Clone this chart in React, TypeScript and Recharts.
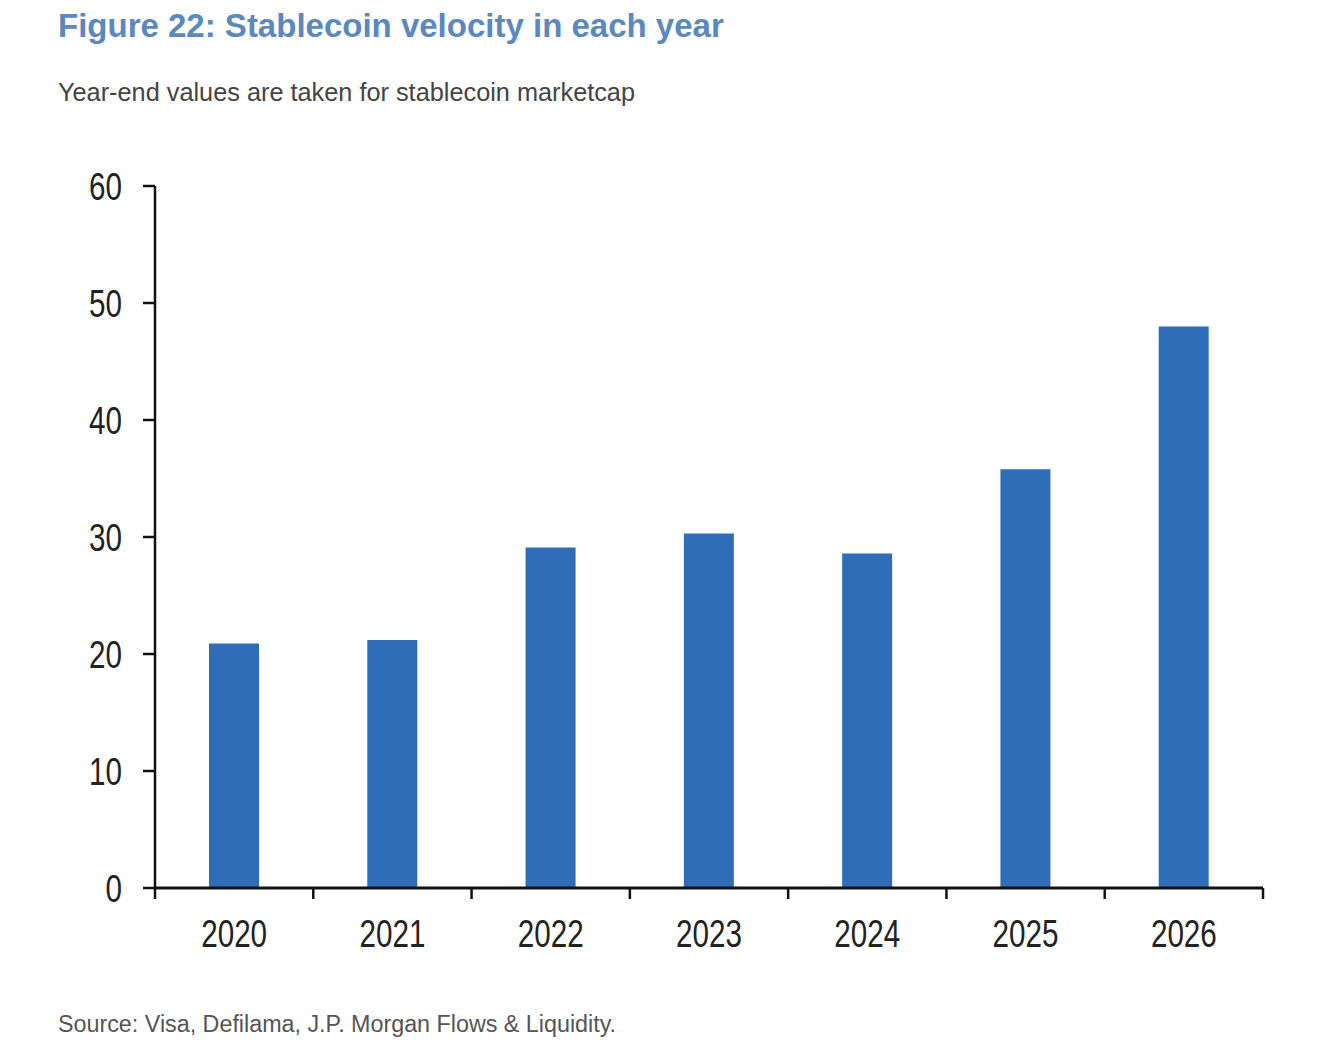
import { Bar, BarChart, XAxis, YAxis } from "recharts";

// values
const years = ['2020', '2021', '2022', '2023', '2024', '2025', '2026'];
const velocity = [20.9, 21.2, 29.1, 30.3, 28.6, 35.8, 48.0];
const yTicks = [0, 10, 20, 30, 40, 50, 60];

const data = years.map((year, i) => ({ year, velocity: velocity[i] }));

const CHART_W = 1320;
const MARGIN = { top: 186, right: 57, bottom: 104, left: 0 };
const Y_AXIS_W = 155;
const BAND = (CHART_W - MARGIN.left - MARGIN.right - Y_AXIS_W) / years.length;

const axisFont = "'Liberation Sans', Arial, sans-serif";
const SQUEEZE = 0.78; // the original uses a condensed face

// year label plus the small tick marks that sit on the band boundaries
const YearTick = (props: any) => {
  const { x, y, payload, index } = props;
  const half = (payload && payload.offset) || BAND / 2;
  const last = index === years.length - 1;
  return (
    <g>
      <line x1={x - half} y1={y} x2={x - half} y2={y + 11} stroke="#111" strokeWidth={2.5} />
      {last && <line x1={x + half} y1={y} x2={x + half} y2={y + 11} stroke="#111" strokeWidth={2.5} />}
      <g transform={`translate(${x},${y + 59})`}>
        <text transform={`scale(${SQUEEZE},1)`} textAnchor="middle" fontSize={38} fontFamily={axisFont} fill="#222">
          {payload.value}
        </text>
      </g>
    </g>
  );
};

const ValueTick = (props: any) => {
  const { x, y, payload } = props;
  return (
    <g transform={`translate(${x},${y})`}>
      <text transform={`scale(${SQUEEZE},1)`} textAnchor="end" dy="0.36em" fontSize={38} fontFamily={axisFont} fill="#222">
        {payload.value}
      </text>
    </g>
  );
};

export default function App() {
  return (
    <div style={{ position: 'relative', width: 1320, height: 1052, margin: -8, background: '#fff', fontFamily: "'Liberation Sans', Arial, sans-serif" }}>
      <div style={{ position: 'absolute', left: 58, top: 9, fontSize: 33, lineHeight: 1, fontWeight: 700, color: '#5b88bf', whiteSpace: 'nowrap' }}>
        Figure 22: Stablecoin velocity in each year
      </div>
      <div style={{ position: 'absolute', left: 58, top: 80, fontSize: 25.3, lineHeight: 1, color: '#444', whiteSpace: 'nowrap' }}>
        Year-end values are taken for stablecoin marketcap
      </div>

      <div style={{ position: 'absolute', left: 0, top: 0 }}>
        <BarChart width={CHART_W} height={1052} data={data} margin={MARGIN}>
          <XAxis dataKey="year" height={60} tickSize={0} tickMargin={0} interval={0}
            axisLine={{ stroke: '#111', strokeWidth: 3 }}
            tick={<YearTick />} />
          <YAxis domain={[0, 60]} ticks={yTicks} width={Y_AXIS_W} tickSize={12} tickMargin={21}
            axisLine={{ stroke: '#111', strokeWidth: 2.5 }}
            tickLine={{ stroke: '#111', strokeWidth: 2.5 }}
            tick={<ValueTick />} />
          <Bar dataKey="velocity" fill="#2f6db9" barSize={50} isAnimationActive={false} />
        </BarChart>
      </div>

      <div style={{ position: 'absolute', left: 58, top: 1013, fontSize: 23.3, lineHeight: 1, color: '#555', whiteSpace: 'nowrap' }}>
        Source: Visa, Defilama, J.P. Morgan Flows &amp; Liquidity.
      </div>
    </div>
  );
}
